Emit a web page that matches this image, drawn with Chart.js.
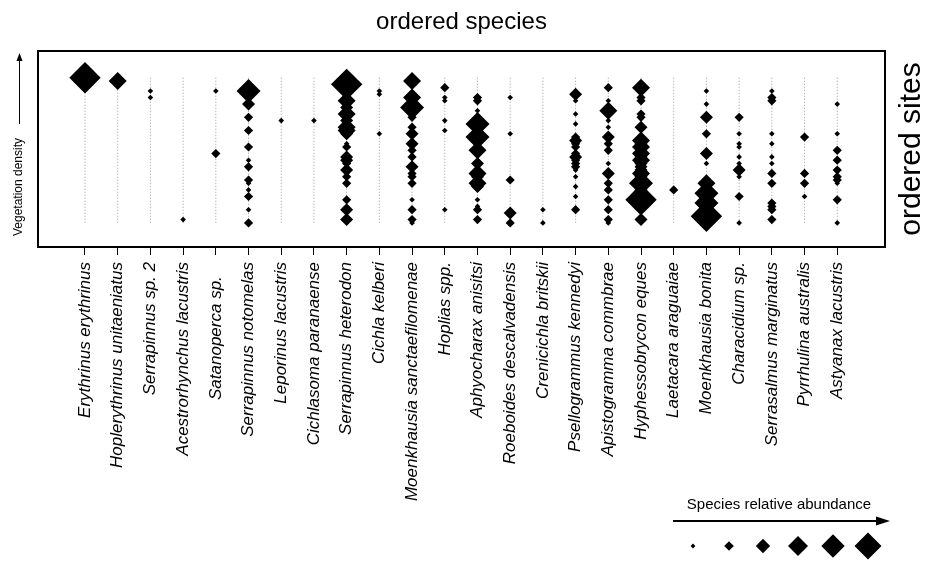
<!DOCTYPE html>
<html>
<head>
<meta charset="utf-8">
<script src="https://cdn.jsdelivr.net/npm/chart.js@4/dist/chart.umd.min.js"></script>
<style>
  html, body { margin: 0; padding: 0; background: #fff; }
  #c { display: block; }
</style>
</head>
<body>
<canvas id="c" width="935" height="561"></canvas>
<script>
// ---------------- DATA ----------------
const species = [
  "Erythrinus erythrinus", "Hoplerythrinus unitaeniatus", "Serrapinnus sp. 2",
  "Acestrorhynchus lacustris", "Satanoperca sp.   ", "Serrapinnus notomelas",
  "Leporinus lacustris", "Cichlasoma paranaense", "Serrapinnus heterodon",
  "Cichla kelberi", "Moenkhausia sanctaefilomenae", "Hoplias spp.",
  "Aphyocharax anisitsi", "Roeboides descalvadensis", "Crenicichla britskii",
  "Psellogrammus kennedyi", "Apistogramma commbrae", "Hyphessobrycon eques",
  "Laetacara araguaiae", "Moenkhausia bonita", "Characidium sp.",
  "Serrasalmus marginatus", "Pyrrhulina australis", "Astyanax lacustris"
];

// ordered site index (0 = highest vegetation density, top) where each species occurs
const siteIdx = [
  [0],
  [1],
  [4, 6],
  [43],
  [4, 23],
  [4, 8, 12, 16, 21, 25, 27, 31, 32, 34, 36, 40, 44],
  [13],
  [13],
  [2, 7, 9, 11, 13, 15, 16, 17, 20, 21, 24, 25, 26, 28, 30, 32, 37, 40, 43],
  [4, 5, 17],
  [1, 6, 9, 12, 15, 17, 20, 22, 24, 27, 29, 30, 32, 37, 40, 43, 44],
  [3, 6, 7, 13, 16, 40],
  [6, 7, 10, 14, 18, 19, 22, 26, 29, 30, 32, 33, 37, 39, 40, 43],
  [6, 17, 31, 41, 44],
  [40, 44],
  [5, 7, 11, 14, 18, 19, 20, 21, 23, 24, 25, 26, 27, 28, 30, 33, 36, 40],
  [3, 7, 10, 13, 15, 18, 20, 22, 26, 29, 32, 34, 37, 40, 43, 44],
  [3, 6, 7, 11, 12, 15, 19, 20, 21, 23, 24, 25, 26, 27, 28, 29, 30, 31, 32, 34, 37, 39, 43],
  [34],
  [4, 8, 12, 17, 23, 26, 32, 35, 38, 42],
  [12, 17, 20, 21, 24, 26, 28, 30, 36, 44],
  [4, 6, 7, 17, 20, 24, 26, 29, 32, 38, 39, 40, 43],
  [18, 29, 32, 36],
  [8, 17, 22, 25, 28, 30, 31, 32, 37, 44]
];

// relative abundance class (1 = lowest ... 6 = highest), same shape as siteIdx
const abundance = [
  [6],
  [4],
  [1, 1],
  [1],
  [1, 2],
  [5, 3, 2, 2, 2, 1, 2, 2, 1, 1, 2, 1, 2],
  [1],
  [1],
  [6, 4, 3, 4, 3, 4, 4, 3, 1, 2, 3, 3, 2, 3, 2, 2, 2, 3, 3],
  [1, 1, 1],
  [4, 4, 5, 2, 2, 3, 3, 2, 2, 3, 2, 2, 2, 1, 2, 2, 1],
  [2, 1, 1, 1, 1, 1],
  [2, 2, 1, 5, 5, 3, 4, 3, 4, 3, 4, 3, 1, 1, 2, 2],
  [1, 1, 2, 3, 2],
  [1, 1],
  [3, 1, 1, 1, 2, 3, 2, 2, 2, 3, 2, 2, 2, 1, 1, 1, 1, 2],
  [2, 1, 4, 1, 1, 3, 2, 2, 1, 3, 2, 2, 2, 2, 2, 1],
  [4, 2, 2, 2, 2, 3, 4, 3, 4, 4, 3, 4, 3, 3, 3, 4, 3, 3, 5, 3, 6, 3, 3],
  [2],
  [1, 1, 3, 2, 3, 1, 4, 5, 5, 6],
  [2, 1, 1, 1, 1, 1, 3, 1, 2, 1],
  [1, 2, 2, 1, 1, 1, 1, 2, 2, 2, 2, 2, 2],
  [2, 2, 2, 1],
  [1, 1, 2, 2, 2, 2, 2, 1, 2, 1]
];

const siteRange = [0, 44];              // first and last ordered site
const legendClasses = [1, 2, 3, 4, 5, 6];

const titleText = "ordered species";
const sideText = "ordered sites";
const yAxisText = "Vegetation density";
const legendText = "Species relative abundance";

// ---------------- STYLE ----------------
const plotRadius = [2.8, 4.6, 6.5, 9, 12, 15.7];
const legendRadius = [2.4, 4.8, 7.2, 10, 11.7, 13.5];
const FONT = "'Liberation Sans', Arial, Helvetica, sans-serif";

// ---------------- BUILD ----------------
const points = [];
siteIdx.forEach((arr, i) => arr.forEach((s, j) => points.push({ x: i, y: s, c: abundance[i][j] })));

const datasets = [{
  type: 'scatter',
  data: points,
  pointStyle: 'rectRot',
  pointRadius: ctx => plotRadius[ctx.raw.c - 1],
  pointHoverRadius: ctx => plotRadius[ctx.raw.c - 1],
  backgroundColor: '#000',
  borderColor: '#000',
  borderWidth: 0,
  order: 0
}];
species.forEach((_, i) => {
  datasets.push({
    type: 'line',
    data: [{ x: i, y: siteRange[0] }, { x: i, y: siteRange[1] }],
    borderColor: '#9a9a9a',
    borderWidth: 1,
    borderDash: [1, 2],
    pointRadius: 0,
    fill: false,
    order: 1
  });
});

const decor = {
  id: 'decor',
  afterDraw(chart) {
    const ctx = chart.ctx;
    const a = chart.chartArea;
    ctx.save();
    // frame
    ctx.strokeStyle = '#000';
    ctx.lineWidth = 2;
    ctx.strokeRect(a.left, a.top, a.right - a.left, a.bottom - a.top);

    ctx.fillStyle = '#000';
    // title
    ctx.font = '24px ' + FONT;
    ctx.textAlign = 'center';
    ctx.textBaseline = 'middle';
    ctx.fillText(titleText, (a.left + a.right) / 2, 22);

    // right-side label
    ctx.save();
    ctx.translate(912, (a.top + a.bottom) / 2);
    ctx.rotate(-Math.PI / 2);
    ctx.font = '30px ' + FONT;
    ctx.fillText(sideText, 0, 0);
    ctx.restore();

    // left label + arrow
    ctx.save();
    ctx.translate(19, 187);
    ctx.rotate(-Math.PI / 2);
    ctx.font = '12px ' + FONT;
    ctx.fillText(yAxisText, 0, 0);
    ctx.restore();
    ctx.lineWidth = 1;
    ctx.beginPath();
    ctx.moveTo(19.5, 124);
    ctx.lineTo(19.5, 58);
    ctx.stroke();
    ctx.beginPath();
    ctx.moveTo(19.5, 53);
    ctx.lineTo(16.5, 61);
    ctx.lineTo(22.5, 61);
    ctx.closePath();
    ctx.fill();

    // legend
    ctx.font = '15px ' + FONT;
    ctx.fillText(legendText, 779, 505);
    ctx.lineWidth = 2;
    ctx.beginPath();
    ctx.moveTo(673, 521);
    ctx.lineTo(878, 521);
    ctx.stroke();
    ctx.beginPath();
    ctx.moveTo(890, 521);
    ctx.lineTo(876, 516.5);
    ctx.lineTo(876, 525.5);
    ctx.closePath();
    ctx.fill();
    const lx = [693, 729, 763, 798, 833, 868];
    legendClasses.forEach((c, k) => {
      const r = legendRadius[c - 1];
      const x = lx[k], y = 546;
      ctx.beginPath();
      ctx.moveTo(x - r, y);
      ctx.lineTo(x, y - r);
      ctx.lineTo(x + r, y);
      ctx.lineTo(x, y + r);
      ctx.closePath();
      ctx.fill();
    });
    ctx.restore();
  }
};

new Chart(document.getElementById('c'), {
  type: 'scatter',
  data: { datasets },
  options: {
    responsive: false,
    animation: false,
    devicePixelRatio: 1,
    layout: { padding: { left: 38, right: 50, top: 51, bottom: 0 } },
    plugins: { legend: { display: false }, tooltip: { enabled: false }, title: { display: false } },
    scales: {
      x: {
        type: 'linear',
        position: 'bottom',
        min: -1.437,
        max: 24.46,
        afterBuildTicks: s => { s.ticks = species.map((_, i) => ({ value: i })); },
        afterFit: s => { s.height = 314; },
        ticks: {
          autoSkip: false,
          minRotation: 90,
          maxRotation: 90,
          padding: 7,
          color: '#000',
          font: { family: FONT, size: 17, style: 'italic' },
          callback: v => species[v]
        },
        grid: { drawOnChartArea: false, drawTicks: true, tickLength: 8, color: '#000', lineWidth: 1 },
        border: { display: false }
      },
      y: {
        type: 'linear',
        display: false,
        reverse: true,
        min: -8.1,
        max: 51.3
      }
    }
  },
  plugins: [decor]
});
</script>
</body>
</html>
